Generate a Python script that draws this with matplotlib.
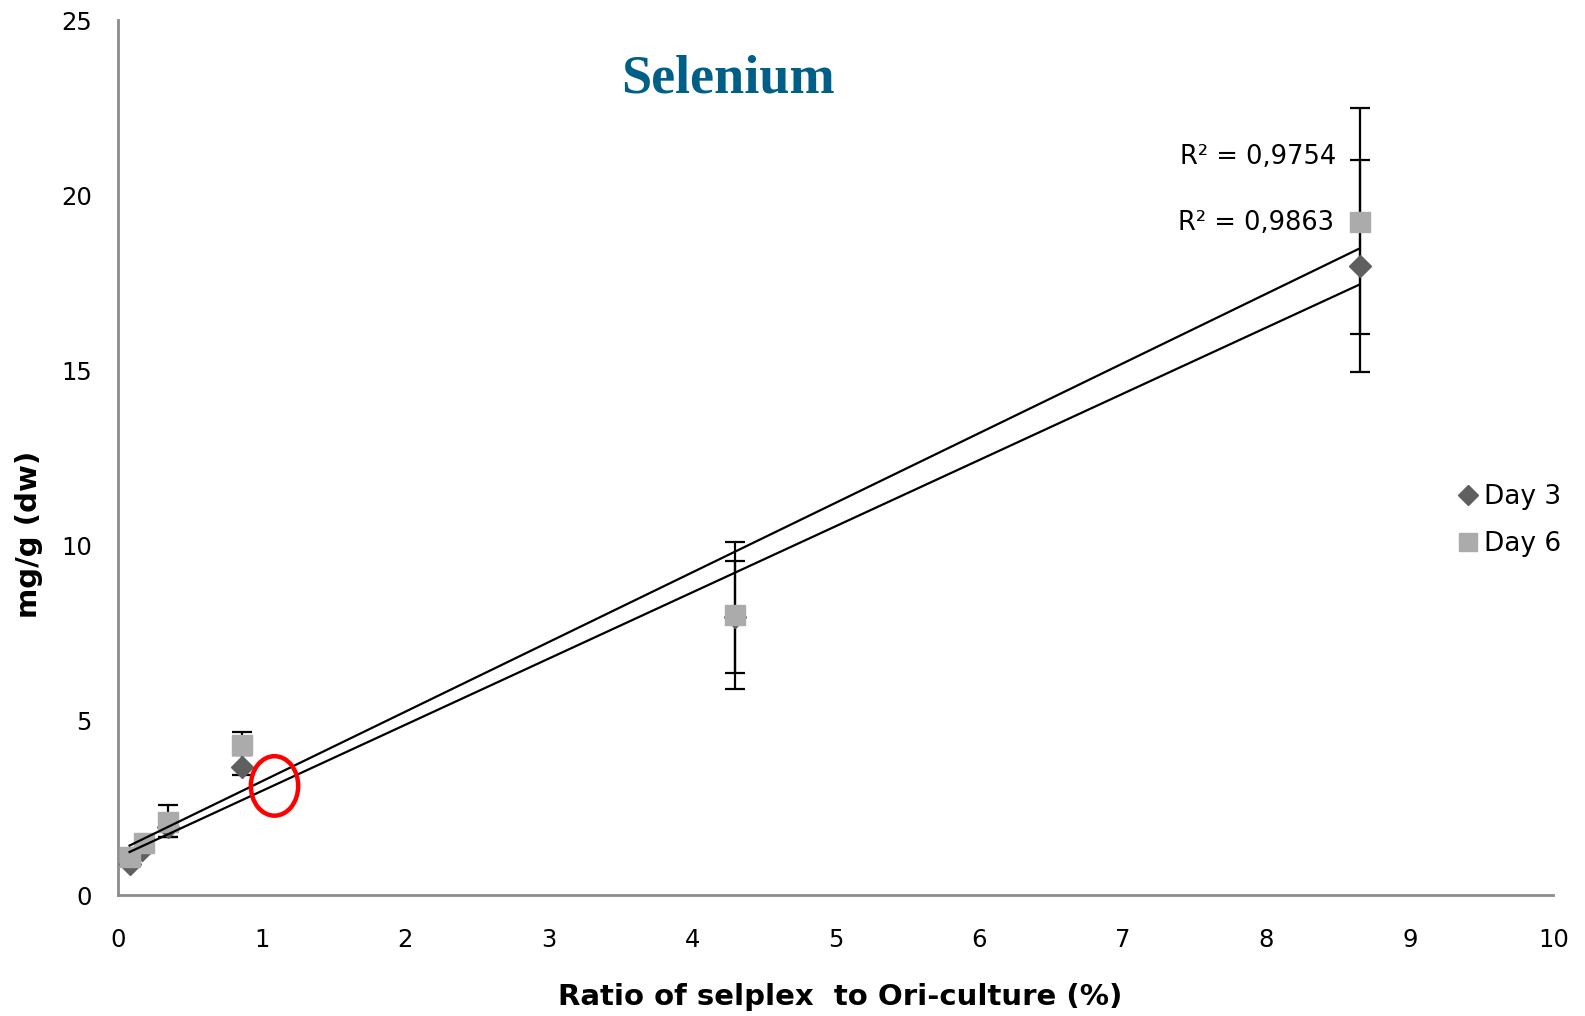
import numpy as np
import matplotlib
matplotlib.use("Agg")
import matplotlib.pyplot as plt
from matplotlib.patches import Ellipse
from matplotlib.lines import Line2D

# Data
x_day3 = [0.08, 0.17, 0.35, 0.86, 4.30, 8.65]
y_day3 = [0.90, 1.30, 1.95, 3.67, 7.95, 17.98]
err3_lo = [0.05, 0.05, 0.30, 0.23, 1.59, 1.94]
err3_hi = [0.05, 0.05, 0.30, 0.32, 1.60, 3.02]

x_day6 = [0.08, 0.18, 0.35, 0.86, 4.30, 8.65]
y_day6 = [1.10, 1.50, 2.10, 4.30, 8.00, 19.25]
err6_lo = [0.05, 0.05, 0.45, 0.30, 2.10, 4.30]
err6_hi = [0.05, 0.05, 0.47, 0.35, 2.10, 3.25]

r2_labels = ["R² = 0,9754", "R² = 0,9863"]
series_names = ["Day 3", "Day 6"]
title = "Selenium"
xlabel = "Ratio of selplex  to Ori-culture (%)"
ylabel = "mg/g (dw)"

c3 = "#5f5f5f"
c6 = "#ababab"

fig = plt.figure(figsize=(15.85, 10.16), dpi=100)
ax = fig.add_axes([0.0745, 0.119, 0.9055, 0.861])

ax.errorbar(x_day3, y_day3, yerr=[err3_lo, err3_hi], fmt='none', ecolor='black',
            elinewidth=1.6, capsize=7, capthick=1.6, zorder=2)
ax.errorbar(x_day6, y_day6, yerr=[err6_lo, err6_hi], fmt='none', ecolor='black',
            elinewidth=1.6, capsize=7, capthick=1.6, zorder=2)
ax.plot(x_day3, y_day3, linestyle='none', marker='D', markersize=11, color=c3, zorder=3)
ax.plot(x_day6, y_day6, linestyle='none', marker='s', markersize=14, color=c6, zorder=4)

# linear trendlines
for xs, ys in [(x_day3, y_day3), (x_day6, y_day6)]:
    xs = np.array(xs); ys = np.array(ys)
    p = np.polyfit(xs, ys, 1)
    xx = np.array([xs.min(), xs.max()])
    ax.plot(xx, np.polyval(p, xx), color='black', lw=1.6, zorder=5)

ax.text(8.49, 21.1, r2_labels[0], ha='right', va='center', fontsize=18.5)
ax.text(8.47, 19.2, r2_labels[1], ha='right', va='center', fontsize=18.5)

ax.text(4.25, 23.3, title, ha='center', va='center', fontsize=39, fontweight='bold',
        family='Liberation Serif', color='#005f87')

ell = Ellipse((1.09, 3.12), 0.33, 1.70, fill=False, edgecolor='red', lw=3.2, zorder=6)
ax.add_patch(ell)

ax.set_xlim(0, 10)
ax.set_ylim(0, 25)
ax.set_xticks(range(0, 11))
ax.set_yticks(range(0, 26, 5))
ax.tick_params(length=0, labelsize=17.5)
ax.tick_params(axis='x', pad=24)
ax.tick_params(axis='y', pad=19)
for s in ['top', 'right']:
    ax.spines[s].set_visible(False)
for s in ['left', 'bottom']:
    ax.spines[s].set_color('#8c8c8c')
    ax.spines[s].set_linewidth(2)

ax.set_xlabel(xlabel, fontsize=21, fontweight='bold')
ax.set_ylabel(ylabel, fontsize=21, fontweight='bold')
ax.xaxis.set_label_coords(0.503, -0.100)
ax.yaxis.set_label_coords(-0.052, 0.412)

handles = [Line2D([], [], linestyle='none', marker='D', markersize=10, color=c3),
           Line2D([], [], linestyle='none', marker='s', markersize=13, color=c6)]
ax.legend(handles, series_names, loc='center left', bbox_to_anchor=(0.913, 0.428),
          frameon=False, fontsize=19, handletextpad=0.0, labelspacing=0.8,
          handlelength=1.2)

fig.savefig("out.png", dpi=100)
